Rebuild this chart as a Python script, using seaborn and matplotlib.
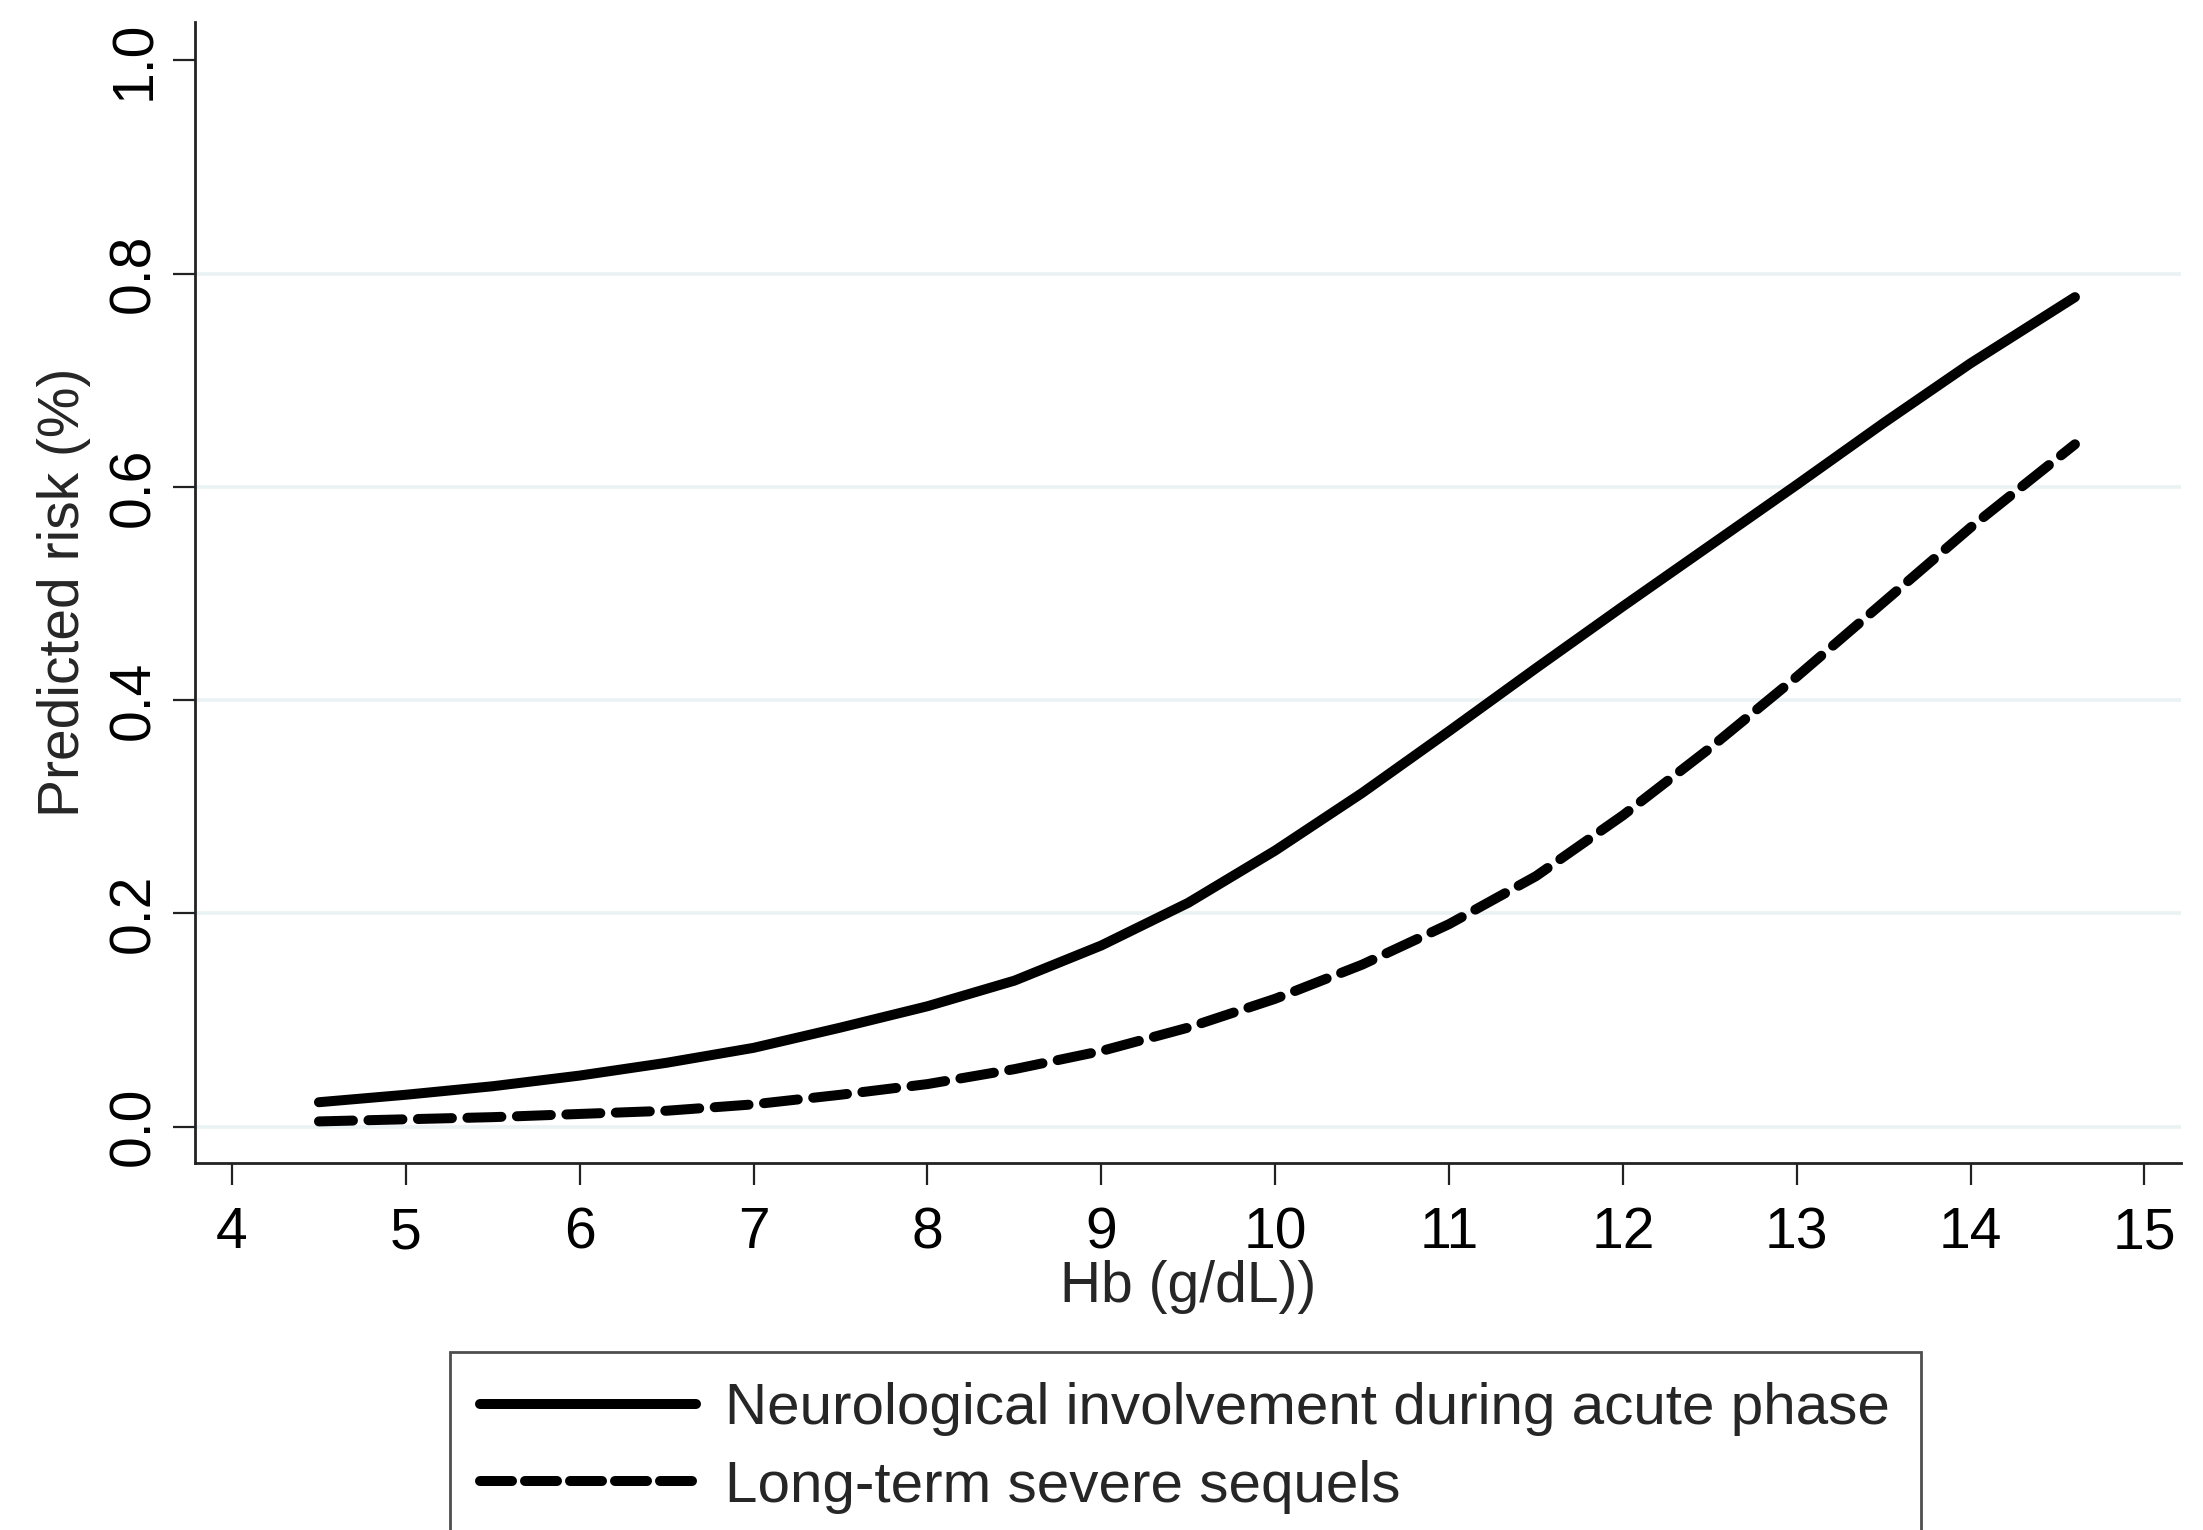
import matplotlib
matplotlib.use("Agg")
import matplotlib.pyplot as plt
import seaborn as sns
import pandas as pd
from matplotlib.lines import Line2D

# ---- data ----
hb = [4.5, 5.0, 5.5, 6.0, 6.5, 7.0, 7.5, 8.0, 8.5, 9.0, 9.5, 10.0, 10.5,
      11.0, 11.5, 12.0, 12.5, 13.0, 13.5, 14.0, 14.6]
neuro_risk = [0.023, 0.030, 0.038, 0.048, 0.060, 0.074, 0.093, 0.113, 0.137,
              0.170, 0.210, 0.259, 0.313, 0.371, 0.430, 0.488, 0.545, 0.602,
              0.660, 0.716, 0.778]
sequel_risk = [0.005, 0.007, 0.009, 0.012, 0.015, 0.021, 0.030, 0.040, 0.054,
               0.071, 0.093, 0.120, 0.152, 0.190, 0.235, 0.292, 0.355, 0.422,
               0.492, 0.562, 0.640]
series_labels = ["Neurological involvement during acute phase",
                 "Long-term severe sequels"]
x_ticks = [4, 5, 6, 7, 8, 9, 10, 11, 12, 13, 14, 15]
y_ticks = [0.0, 0.2, 0.4, 0.6, 0.8, 1.0]
y_tick_labels = ["0.0", "0.2", "0.4", "0.6", "0.8", "1.0"]
grid_levels = [0.0, 0.2, 0.4, 0.6, 0.8]

df = pd.DataFrame({"hb": hb, "neuro": neuro_risk, "sequel": sequel_risk})

sns.set_style("white")
plt.rcParams["font.family"] = ["Liberation Sans", "DejaVu Sans"]

W, H = 2203, 1530
fig = plt.figure(figsize=(W / 100, H / 100), dpi=100)
ax = fig.add_axes([195 / W, 1 - 1163 / H, (2181 - 195) / W, (1163 - 22) / H])

# grid lines
for g in grid_levels:
    ax.axhline(g, color="#EAF2F3", lw=2.6, zorder=0)

LW = 7.2
sns.lineplot(data=df, x="hb", y="neuro", ax=ax, color="black", lw=LW,
             solid_capstyle="round", zorder=3)
sns.lineplot(data=df, x="hb", y="sequel", ax=ax, color="black", lw=LW,
             zorder=3)
dash_pat = (3.4, 1.55)
l2 = ax.lines[-1]
l2.set_linestyle((0, dash_pat))
l2.set_dash_capstyle("round")

ax.set_xlim(3.787, 15.21)
ax.set_ylim(-0.034, 1.036)
ax.set_xticks(x_ticks)
ax.set_xticklabels([str(t) for t in x_ticks])
ax.set_yticks(y_ticks)
ax.set_yticklabels(y_tick_labels, rotation=90, va="center")

for s in ["top", "right"]:
    ax.spines[s].set_visible(False)
for s in ["left", "bottom"]:
    ax.spines[s].set_color("#222222")
    ax.spines[s].set_linewidth(2.0)

ax.tick_params(axis="both", which="major", length=16, width=1.6,
               color="#222222", labelsize=41, labelcolor="black", direction="out",
               left=True, bottom=True)
ax.tick_params(axis="x", pad=15)
ax.tick_params(axis="y", pad=8)

ax.set_xlabel("Hb (g/dL))", fontsize=41, labelpad=0)
ax.set_ylabel("Predicted risk (%)", fontsize=41, labelpad=12)

handles = [
    Line2D([], [], color="black", lw=LW, solid_capstyle="round"),
    Line2D([], [], color="black", lw=LW, linestyle=(0, (3.2, 1.3)),
           dash_capstyle="round"),
]
leg = fig.legend(handles, series_labels, loc="upper left",
                 bbox_to_anchor=(450 / W, 1 - 1352 / H), borderaxespad=0,
                 fontsize=42, frameon=True, fancybox=False, handlelength=3.7,
                 handletextpad=0.5, borderpad=0.52, labelspacing=0.4)
fr = leg.get_frame()
fr.set_edgecolor("#222222")
fr.set_linewidth(2.0)
fr.set_facecolor("white")

fig.savefig("out.png", dpi=100)
